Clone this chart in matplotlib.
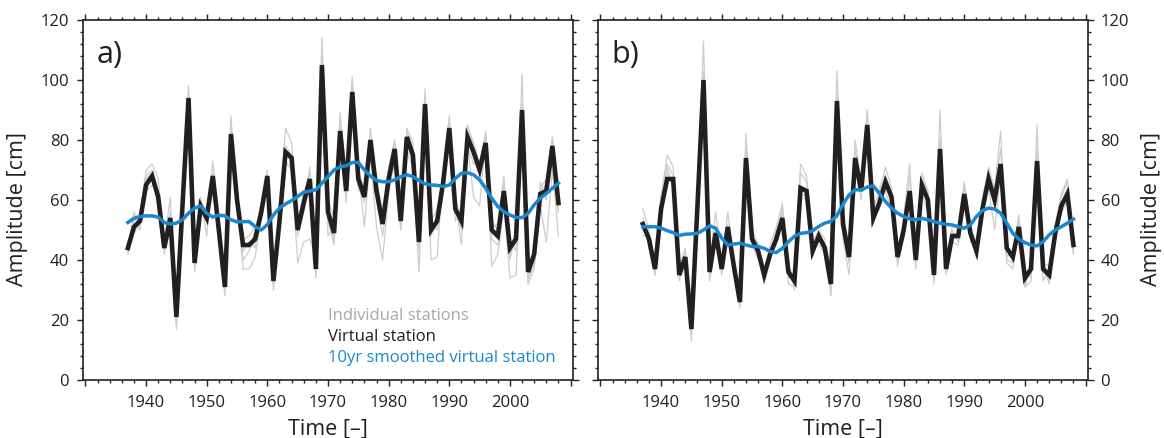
import numpy as np
import matplotlib
matplotlib.use("Agg")
import matplotlib.pyplot as plt
import matplotlib.ticker as mticker

plt.rcParams['font.family'] = ['Open Sans', 'DejaVu Sans']

years = np.arange(1937, 2009)

# --- panel a -----------------------------------------------------------------
virt_a = [44, 51, 53, 65, 68, 61, 44, 54, 21, 58, 94, 39,
          58, 54, 68, 50, 31, 82, 60, 45, 45, 47, 56, 68,
          33, 53, 76, 74, 50, 59, 67, 37, 105, 56, 49, 83,
          63, 96, 67, 61, 80, 63, 52, 67, 77, 53, 81, 75,
          46, 92, 50, 53, 66, 84, 57, 53, 81, 76, 70, 79,
          50, 48, 63, 44, 47, 90, 36, 42, 62, 63, 78, 59]

smooth_a = [52.5, 53.9, 54.5, 54.7, 54.7, 54.3, 52.5, 52.0, 52.3, 53.4, 55.6, 57.3,
            58.0, 55.6, 54.3, 55.0, 54.7, 53.4, 52.7, 52.8, 52.8, 51.1, 50.0, 51.8,
            55.0, 57.3, 58.7, 59.8, 61.2, 62.6, 63.0, 63.4, 65.6, 67.8, 70.0, 71.1,
            71.4, 72.5, 72.5, 70.0, 68.0, 66.5, 66.1, 66.1, 66.7, 67.8, 68.4, 67.8,
            66.5, 65.4, 65.0, 64.9, 64.5, 65.0, 67.2, 68.9, 69.1, 68.4, 66.7, 63.9,
            60.6, 57.8, 56.1, 55.0, 54.2, 54.1, 55.6, 58.4, 60.6, 62.2, 63.9, 65.6]

# station departures from the virtual station
dev_a = [
    [-2, 3, 2, 5, 4, 6, 2, 7, -4, 2, 4, 3,
     3, -6, 5, 2, 3, 6, -3, 2, 3, 4, -2, 2,
     -2, 3, 8, 5, 3, -3, 4, 3, 9, 4, 5, 6,
     4, 5, 3, -2, 4, 3, 5, 4, 3, -3, 3, 4,
     -3, 5, 3, 4, 2, 4, 3, 2, 4, 3, 2, 4,
     3, 2, 5, -4, 3, 12, -4, 3, 2, 4, 3, 4],
    [2, -2, -1, 3, 2, -2, 4, -3, -3, 3, 2, -3,
     -4, 4, -3, -3, -3, -2, 4, -5, -2, 3, 3, -4,
     4, -2, -3, -4, 2, 4, -4, -3, 3, -3, -4, -3,
     -4, 3, -4, 2, -3, -2, -4, -3, -5, 2, -4, -2,
     4, -4, 2, -3, -3, -2, -4, 3, -3, -4, 3, -2,
     -3, -3, -2, 3, -4, -3, 3, -3, 4, -3, -4, -3],
    [0, 2, 1, -2, -3, 1, -2, 2, 1, -2, -3, 2,
     2, 1, -2, 3, 2, -3, -2, -8, -8, -6, -1, -3,
     1, 2, -4, -3, -11, -13, -20, 4, -6, -8, 3, -5,
     2, -6, 3, -10, -5, -12, -12, -5, -3, 3, -5, -4,
     -10, -4, -10, -12, 5, -6, 3, -8, -2, -15, -12, 2,
     -12, -6, -5, -10, -12, -8, -4, -5, -4, -17, -8, -11],
    [-1, 5, -3, 2, 1, -4, 1, 1, 0, -3, 1, 0,
     0, 3, 1, -4, 0, 2, -2, -2, 1, -3, 2, 0,
     -3, 4, 2, 1, -2, 3, 2, -1, 2, 2, -3, 2,
     1, -2, 2, 3, -2, 4, 2, -2, 2, -3, 2, 2,
     1, 2, -2, 2, 3, 1, 2, -3, 2, 3, 2, 2,
     1, 4, 2, -2, 2, 2, -2, -4, 1, 2, 2, -3],
]

# --- panel b -----------------------------------------------------------------
virt_b = [52, 47, 37, 57, 67, 67, 35, 41, 17, 58, 100, 36,
          49, 37, 51, 38, 26, 74, 47, 43, 35, 42, 47, 54,
          36, 33, 64, 63, 43, 48, 44, 32, 93, 52, 41, 74,
          63, 85, 54, 59, 66, 61, 41, 50, 63, 40, 65, 60,
          35, 77, 37, 48, 48, 62, 49, 43, 57, 67, 60, 72,
          44, 41, 51, 34, 37, 73, 37, 35, 49, 58, 62, 45]

smooth_b = [51.1, 51.1, 51.1, 50.6, 49.8, 49.1, 48.2, 48.6, 48.7, 48.9, 50.0, 51.4,
            50.6, 47.3, 45.0, 45.3, 45.6, 45.0, 44.5, 44.5, 43.9, 42.8, 42.5, 43.9,
            46.1, 47.9, 48.9, 49.1, 49.8, 51.2, 52.3, 52.9, 54.8, 58.6, 61.7, 63.4,
            63.4, 64.3, 64.7, 62.2, 59.5, 57.3, 55.6, 54.5, 53.7, 53.4, 53.9, 53.4,
            52.8, 52.3, 51.9, 51.7, 51.1, 50.6, 51.7, 54.5, 56.5, 57.3, 57.0, 55.6,
            52.3, 48.9, 46.9, 45.8, 45.0, 44.7, 46.1, 48.4, 50.0, 51.1, 52.3, 53.6]

dev_b = [
    [5, 3, 2, 4, 8, 4, 3, 3, -4, 3, 13, 3,
     7, 2, 5, 2, 3, 8, 3, 2, 2, 3, 4, 5,
     -2, 3, 8, 5, 3, 2, 3, -4, 10, 4, 3, 6,
     3, 5, 3, 4, 5, 3, -3, 4, 9, -3, 4, 3,
     -3, 13, 2, 3, 3, 4, 2, 3, 4, 3, 4, 11,
     -3, 2, 4, -3, 2, 12, -4, 2, 3, 4, 5, -3],
    [-4, 2, -2, -3, 4, -3, 3, -3, 3, -2, 2, -3,
     -3, 3, -3, -3, 2, -3, -3, 3, -3, -2, 3, -3,
     3, -3, -3, -3, 3, -3, -2, 3, -4, -5, -6, -3,
     -3, -3, 4, 3, -3, -4, 3, -3, -3, 3, -3, -4,
     3, -3, 3, -2, -3, -3, 3, -2, 3, -3, -10, -3,
     -5, -4, 3, 2, -3, -3, 2, 3, -3, -2, -3, -3],
    [2, -3, 1, 4, 5, 1, -2, 2, 1, -2, 3, 1,
     2, -2, 1, -2, -2, 4, -2, -3, 2, 2, -2, 4,
     -4, -2, 5, 3, -2, 1, -3, 2, 3, 2, -2, 3,
     2, 2, -2, 3, 2, 2, -2, -3, 5, 2, 2, 3,
     2, 4, -2, 2, -2, 3, -3, 2, 2, 4, 3, 5,
     -4, -2, 3, -3, -4, 4, 1, -3, 2, 3, 4, 2],
    [-2, 1, -2, 3, 2, -1, 1, -1, -2, 1, 2, -2,
     -2, 1, -2, 1, -1, 2, 1, 2, -1, 1, -2, 2,
     2, 1, -2, -2, 1, -2, 2, -3, 2, -2, 2, -2,
     1, -2, 2, -2, 2, -2, 1, 2, -2, 1, -2, 1,
     -2, 2, 1, -2, 2, -2, 1, -2, 1, -2, 2, -2,
     2, -2, -2, -3, 2, -2, 2, -2, 1, -2, 2, -2],
]

GRAY = '#cdcdcd'
BLACK = '#231f20'
BLUE = '#1a88cc'
LEGEND_GRAY = '#a7a9ac'

fig = plt.figure(figsize=(11.64, 4.38), dpi=100)
ax_a = fig.add_axes([83 / 1164, 58 / 438, 490 / 1164, 360 / 438])
ax_b = fig.add_axes([598 / 1164, 58 / 438, 490 / 1164, 360 / 438])


def year_fmt(x, pos):
    yr = int(round(x))
    return str(yr) if 1940 <= yr <= 2000 else ''


for ax, virt, smooth, devs, tag in [(ax_a, virt_a, smooth_a, dev_a, 'a)'),
                                    (ax_b, virt_b, smooth_b, dev_b, 'b)')]:
    v = np.array(virt, dtype=float)
    for d in devs:
        ax.plot(years, v + np.array(d), color=GRAY, lw=0.9, zorder=1)
    ax.plot(years, v, color=BLACK, lw=3.3, zorder=2, solid_joinstyle='miter')
    ax.plot(years, smooth, color=BLUE, lw=2.5, zorder=3)

    ax.set_xlim(1929.6, 2010.4)
    ax.set_ylim(0, 120)
    ax.xaxis.set_major_locator(mticker.MultipleLocator(10))
    ax.xaxis.set_minor_locator(mticker.MultipleLocator(2))
    ax.xaxis.set_major_formatter(mticker.FuncFormatter(year_fmt))
    ax.yaxis.set_major_locator(mticker.MultipleLocator(20))
    ax.yaxis.set_minor_locator(mticker.MultipleLocator(4))
    ax.tick_params(which='both', direction='out', top=True, right=True,
                   width=1.0, colors=BLACK, labelsize=12)
    ax.tick_params(which='major', length=4)
    ax.tick_params(which='minor', length=2.2)
    ax.tick_params(axis='x', pad=7)
    for sp in ax.spines.values():
        sp.set_linewidth(1.2)
        sp.set_color(BLACK)

    ax.set_xlabel('Time [–]', fontsize=15.5, color=BLACK)
    ax.xaxis.set_label_coords(0.5, -0.106)
    ax.xaxis.label.set_va('top')
    ax.text(0.027, 0.88, tag, transform=ax.transAxes, fontsize=22,
            color=BLACK, va='baseline', ha='left')

ax_a.tick_params(axis='y', labelleft=True, labelright=False, pad=6)
ax_a.set_ylabel('Amplitude [cm]', fontsize=15.5, color=BLACK, va='center')
ax_a.yaxis.set_label_coords(-0.133, 0.475)

ax_b.tick_params(axis='y', labelleft=False, labelright=True, pad=5)
ax_b.yaxis.set_label_position('right')
ax_b.set_ylabel('Amplitude [cm]', fontsize=15.5, color=BLACK, rotation=90,
                va='center')
ax_b.yaxis.set_label_coords(1.129, 0.475)

# text legend in panel a
ax_a.text(0.5, 0.167, 'Individual stations', transform=ax_a.transAxes,
          color=LEGEND_GRAY, fontsize=12, va='baseline')
ax_a.text(0.5, 0.108, 'Virtual station', transform=ax_a.transAxes,
          color=BLACK, fontsize=12, va='baseline')
ax_a.text(0.5, 0.051, '10yr smoothed virtual station', transform=ax_a.transAxes,
          color=BLUE, fontsize=12, va='baseline')

fig.savefig('out.png', dpi=100)
